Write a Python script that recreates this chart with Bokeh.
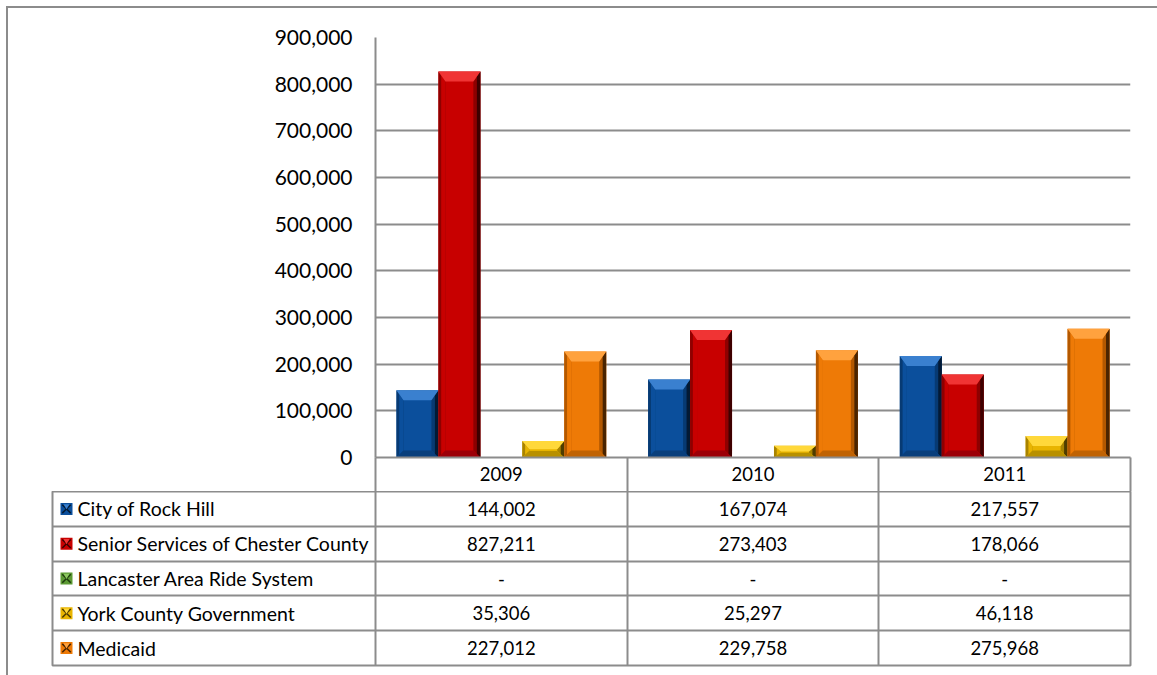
from bokeh.plotting import figure
from bokeh.layouts import column
from bokeh.models import Range1d, FixedTicker, NumeralTickFormatter
from bokeh.embed import file_html
from bokeh.resources import INLINE
from bokeh.core.properties import value

# ---- data ----
years = ["2009", "2010", "2011"]
series_names = ["City of Rock Hill", "Senior Services of Chester County",
                "Lancaster Area Ride System", "York County Government", "Medicaid"]
rock_hill = [144002, 167074, 217557]
senior_services = [827211, 273403, 178066]
lancaster = [0, 0, 0]
york_county = [35306, 25297, 46118]
medicaid = [227012, 229758, 275968]
y_ticks = [0, 100000, 200000, 300000, 400000, 500000, 600000, 700000, 800000, 900000]

series_values = [rock_hill, senior_services, lancaster, york_county, medicaid]

# ---- styles ----
FONT = "Lato"
GRID = "#8c8c8c"
base = ["#0b4f9c", "#c80000", "#5c9a34", "#e8b400", "#ee7a06"]
light = ["#3a80cf", "#f03434", "#8cc860", "#ffd83a", "#ffa23e"]
mid_dark = ["#073a73", "#8e0000", "#3e7020", "#a88300", "#b35800"]
dark = ["#031a35", "#3e0000", "#1c3a0c", "#4e3c00", "#4a2400"]
bottom_c = ["#093f7c", "#9c0008", "#467a28", "#b89000", "#c06304"]

FRAME_W, FRAME_H = 755.0, 420.0
Y_MAX = 900000
sx = FRAME_W / 3.0
sy = FRAME_H / Y_MAX

def no_align(fig):
    if "frame_align" in fig.properties():
        fig.frame_align = False

p = figure(width=1149, height=483, x_range=Range1d(0, 3), y_range=Range1d(0, Y_MAX),
           output_backend="svg", toolbar_location=None,
           min_border_left=367, min_border_right=27, min_border_top=29, min_border_bottom=34)
no_align(p)
p.outline_line_color = None
p.background_fill_color = "white"
p.border_fill_color = "white"

# bars with bevel
bw = 1.0 / 6.0
bx = 7.0 / sx
xs_main, ys_main, fc_main = [], [], []
for k, vals in enumerate(series_values):
    for i, v in enumerate(vals):
        if not v:
            continue
        xc = i + 1.0 / 12 + (k + 0.5) * bw
        x0, x1 = xc - bw / 2, xc + bw / 2
        y0, y1 = 0.0, float(v)
        h_px = v * sy
        bt = min(10.0, h_px * 0.5) / sy
        bb = min(7.0, h_px * 0.4) / sy
        xs_main.append([x0, x1, x1, x0]); ys_main.append([y0, y0, y1, y1]); fc_main.append(base[k])
        xs_main.append([x0, x0 + bx, x0 + bx, x0]); ys_main.append([y1, y1 - bt, y0 + bb, y0]); fc_main.append(mid_dark[k])
        xs_main.append([x0 + bx * 0.4, x0 + bx, x0 + bx, x0 + bx * 0.4]); ys_main.append([y1 - bt * 0.4, y1 - bt, y0 + bb, y0 + bb * 0.4]); fc_main.append(base[k])
        xs_main.append([x1, x1 - bx, x1 - bx, x1]); ys_main.append([y1, y1 - bt, y0 + bb, y0]); fc_main.append(mid_dark[k])
        xs_main.append([x1, x1 - bx * 0.5, x1 - bx * 0.5, x1]); ys_main.append([y1, y1 - bt * 0.5, y0 + bb * 0.5, y0]); fc_main.append(dark[k])
        xs_main.append([x0, x1, x1 - bx, x0 + bx]); ys_main.append([y0, y0, y0 + bb, y0 + bb]); fc_main.append(bottom_c[k])
        xs_main.append([x0, x1, x1 - bx, x0 + bx]); ys_main.append([y1, y1, y1 - bt, y1 - bt]); fc_main.append(light[k])

p.patches(xs=xs_main, ys=ys_main, fill_color=fc_main, line_color=None)

# axes
p.yaxis.ticker = FixedTicker(ticks=y_ticks)
p.yaxis.formatter = NumeralTickFormatter(format="0,0")
p.yaxis.major_tick_out = 0
p.yaxis.major_tick_in = 0
p.yaxis.minor_tick_out = 0
p.yaxis.minor_tick_in = 0
p.yaxis.axis_line_color = GRID
p.yaxis.axis_line_width = 2
p.yaxis.major_label_standoff = 23
p.yaxis.major_label_text_font = FONT
p.yaxis.major_label_text_font_size = "21px"
p.yaxis.major_label_text_color = "black"

p.xaxis.ticker = FixedTicker(ticks=[i + 0.5 for i in range(len(years))],
                             minor_ticks=list(range(len(years) + 1)))
p.xaxis.major_label_overrides = {i + 0.5: y for i, y in enumerate(years)}
p.xaxis.major_tick_out = 0
p.xaxis.major_tick_in = 0
p.xaxis.minor_tick_in = 0
p.xaxis.minor_tick_out = 34
p.xaxis.minor_tick_line_color = GRID
p.xaxis.minor_tick_line_width = 2
p.xaxis.axis_line_color = GRID
p.xaxis.axis_line_width = 2
p.xaxis.major_label_standoff = -25
p.xaxis.major_label_text_font = FONT
p.xaxis.major_label_text_font_size = "18.5px"
p.xaxis.major_label_text_color = "black"

p.xgrid.visible = False
p.ygrid.ticker = FixedTicker(ticks=y_ticks)
p.ygrid.grid_line_color = GRID
p.ygrid.grid_line_width = 2

# ---- table ----
x_left = -(375.0 - 52.0) / sx
n_rows = len(series_names)
t = figure(width=1149, height=184, x_range=Range1d(x_left, 3), y_range=Range1d(0, n_rows),
           output_backend="svg", toolbar_location=None,
           min_border_left=44, min_border_right=27, min_border_top=0, min_border_bottom=10)
no_align(t)
t.axis.visible = False
t.outline_line_color = GRID
t.outline_line_width = 2
t.xgrid.ticker = FixedTicker(ticks=list(range(len(years))))
t.ygrid.ticker = FixedTicker(ticks=list(range(1, n_rows)))
t.grid.grid_line_color = GRID
t.grid.grid_line_width = 2
t.border_fill_color = "white"

row_y = [n_rows - r - 0.5 for r in range(n_rows)]
sw_x = x_left + 14.0 / sx
t.scatter(x=[sw_x] * n_rows, y=row_y, marker="square", size=12,
          fill_color=base, line_color=None)
t.scatter(x=[sw_x] * n_rows, y=row_y, marker="x", size=12,
          line_color=dark, line_width=1.5)
t.scatter(x=[sw_x] * n_rows, y=[yy + 3.0 / 34.8 for yy in row_y], marker="triangle", size=6,
          fill_color=light, line_color=None, angle=3.14159)
t.text(x=[x_left] * n_rows, y=row_y, text=series_names, x_offset=25,
       text_font=value(FONT), text_font_size="19.5px", text_baseline="middle",
       text_align="left", text_color="black")

cx, cy, ct = [], [], []
for r, vals in enumerate(series_values):
    for i, v in enumerate(vals):
        cx.append(i + 0.5)
        cy.append(row_y[r])
        ct.append(f"{v:,}" if v else "-")
t.text(x=cx, y=cy, text=ct, text_font=value(FONT), text_font_size="18.5px",
       text_baseline="middle", text_align="center", text_color="black")

layout = column(p, t, spacing=0,
                styles={"margin-left": "6px", "margin-top": "6px",
                        "border-left": "2px solid #8c8c8c", "border-top": "2px solid #8c8c8c"})

open("out.html", "w").write(file_html(layout, INLINE))
